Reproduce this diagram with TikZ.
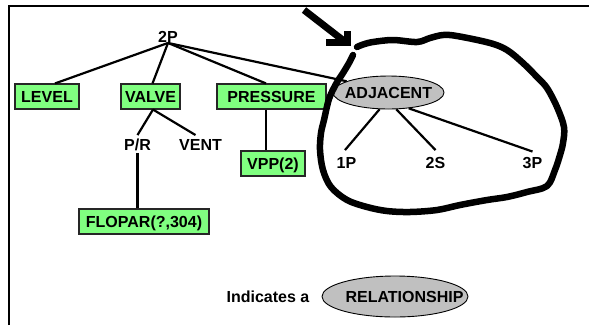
\documentclass[tikz,border=0pt]{standalone}
\usepackage{fontspec}
\setmainfont{Liberation Sans}
\usetikzlibrary{shapes.geometric, positioning}

\definecolor{boxgreen}{RGB}{128,255,128}
\definecolor{relgray}{RGB}{192,192,192}

\begin{document}
\begin{tikzpicture}[x=1pt, y=-1pt,
  lbl/.style={inner sep=0pt, text height=11.5pt, text depth=0pt, font=\fontsize{16}{19}\selectfont\bfseries},
  box/.style={lbl, draw=black!85, line width=1.1pt, fill=boxgreen, rectangle, minimum height=25pt},
  rel/.style={lbl, draw, line width=0.9pt, ellipse, fill=relgray},
  link/.style={line width=2.2pt},
  scrawl/.style={line width=6.5pt, line cap=round, line join=round}
]
\useasboundingbox (0,0) rectangle (589,325);

% page frame
\draw[line width=2.4pt] (8.7,325) -- (8.7,6) -- (589,6);

% tree
\node[lbl] (top) at (168,37) {2P};
\node[box, minimum width=64pt] (level) at (47,96.5) {LEVEL};
\node[box, minimum width=59pt] (valve) at (150.5,96.5) {VALVE};
\node[box, minimum width=109pt] (pressure) at (271.5,96.5) {PRESSURE};
\node[rel, minimum width=111pt, minimum height=33pt] (adjacent) at (388.5,92.5) {\makebox[0pt]{ADJACENT}};

\node[lbl] (pr) at (137.5,145) {P/R};
\node[lbl] (vent) at (200.5,145) {VENT};
\node[box, minimum width=64pt] (vpp) at (273,163.5) {VPP(2)};
\node[box, minimum width=130pt] (flopar) at (144,221.5) {FLOPAR(?,304)};

\node[lbl] (p1) at (346.5,162.5) {1P};
\node[lbl] (s2) at (435.5,162.5) {2S};
\node[lbl] (p3) at (532.5,162.5) {3P};

\draw[link] (top.south) -- ([xshift=8pt]level.north);
\draw[link] (top.south) -- ([xshift=2pt]valve.north);
\draw[link] (top.south) -- ([xshift=-5.5pt]pressure.north);
\draw[link] (top.south) -- (adjacent.165);

\draw[link] ([xshift=2.5pt]valve.south) -- ([yshift=4pt]pr.north);
\draw[link] ([xshift=2.5pt]valve.south) -- ([xshift=-5pt,yshift=4pt]vent.north);
\draw[link] ([yshift=-2pt]pr.south) -- (pr.south |- flopar.north);
\draw[link] ([xshift=-5.5pt]pressure.south) -- ([xshift=-5.5pt]pressure.south |- vpp.north);

\draw[link] (adjacent.242) -- ([xshift=-1.5pt,yshift=6.5pt]p1.north);
\draw[link] (adjacent.295) -- ([yshift=6.5pt]s2.north);
\draw[link] (adjacent.322) -- ([yshift=5pt]p3.north);

% hand-drawn loop round the relationship
\draw[scrawl] plot[smooth, tension=0.55] coordinates {
  (357,47) (363,44.5) (373,42) (393,40) (417,42) (430,38) (443,35) (457,36)
  (490,43) (507,50) (523,63) (537,77) (547,88) (557,107) (564,127) (563,143)
  (560,155) (555,170) (547,186) (527,192) (507,197) (487,200) (460,205)
  (437,210) (410,212) (387,211) (367,207) (347,200) (331,187) (323,170)
  (320,150) (321,133) (324,120) (329,99) (336,84) (343,73) (349,63) (353,55)};

% pointer
\coordinate (tail) at (304,10);
\coordinate (tip) at (344,41);
\draw[line width=7pt] (tail) -- (tip);
\draw[line width=7pt, line join=miter] (326,42.5) -- (347,42.5) -- (347,31);

% legend
\node[lbl] (ind) at (268,296.5) {Indicates a};
\node[rel, minimum width=146pt, minimum height=41pt] (relation) at (395,296.5) {\makebox[0pt]{\kern19pt RELATIONSHIP}};

\end{tikzpicture}
\end{document}
